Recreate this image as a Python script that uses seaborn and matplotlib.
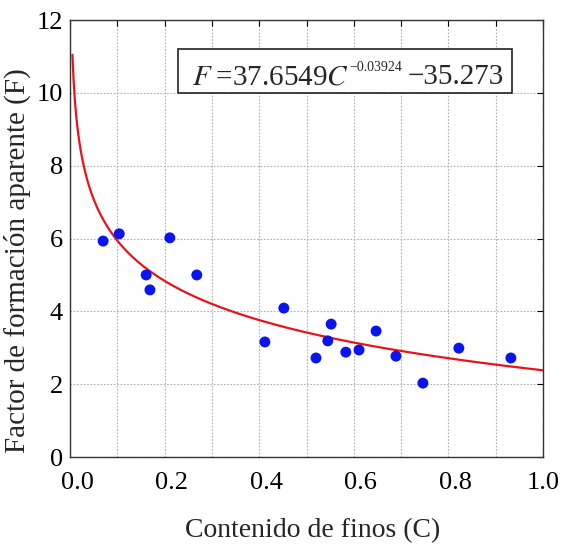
import numpy as np
import pandas as pd
import matplotlib
matplotlib.use("Agg")
import matplotlib.pyplot as plt
import matplotlib.patches as mpatches
import matplotlib.transforms as mtransforms
import seaborn as sns

# Data
finos = [0.070, 0.104, 0.161, 0.169, 0.211, 0.268, 0.412, 0.452, 0.520, 0.545,
         0.552, 0.583, 0.611, 0.647, 0.689, 0.746, 0.822, 0.932]
factor = [5.93, 6.13, 5.00, 4.59, 6.02, 5.00, 3.16, 4.09, 2.72, 3.19,
          3.65, 2.88, 2.94, 3.46, 2.77, 2.03, 2.99, 2.72]
coef_a = 37.6549
coef_b = -0.03924
coef_c = -35.273
x_ticks = [0.0, 0.1, 0.2, 0.3, 0.4, 0.5, 0.6, 0.7, 0.8, 0.9, 1.0]
x_ticklabels = ["0.0", "", "0.2", "", "0.4", "", "0.6", "", "0.8", "", "1.0"]
y_ticks = [0, 2, 4, 6, 8, 10, 12]

sns.set_style("white")
plt.rcParams['font.family'] = ['Liberation Serif', 'DejaVu Serif']
plt.rcParams['mathtext.fontset'] = 'stix'

fig = plt.figure(figsize=(5.61, 5.5), dpi=100)
ax = fig.add_axes([0.1248, 0.169, 0.8432, 0.7946])

df = pd.DataFrame({"C": finos, "F": factor})
curve_x = np.linspace(0.0051, 1.0, 400)
curve = pd.DataFrame({"C": curve_x, "F": coef_a * curve_x ** coef_b + coef_c})

sns.lineplot(data=curve, x="C", y="F", ax=ax, color="#e8141b", linewidth=1.6, zorder=3)
sns.scatterplot(data=df, x="C", y="F", ax=ax, color="#0a14f0", s=62,
                edgecolor="none", zorder=4)

ax.set_xlim(0, 1.0)
ax.set_ylim(0, 12)
ax.set_xticks(x_ticks)
ax.set_xticklabels(x_ticklabels)
ax.set_yticks(y_ticks)
ax.grid(True, color="#b0b0b0", linestyle=(0, (1.5, 1.5)), linewidth=0.8)
ax.tick_params(direction="in", top=True, right=True, length=4, width=0.8,
               labelsize=19, colors="black")
ax.tick_params(axis="x", pad=11)
ax.tick_params(axis="y", pad=5)
for s in ax.spines.values():
    s.set_color("#333333")
    s.set_linewidth(1.0)
    s.set_visible(True)

# shift x tick labels slightly right (except last), as in the reference
shift = mtransforms.ScaledTranslation(5 / 72, 0, fig.dpi_scale_trans)
for lbl in ax.get_xticklabels()[:-1]:
    lbl.set_transform(lbl.get_transform() + shift)

ax.set_xlabel("Contenido de finos (C)", fontsize=20)
ax.set_ylabel("Factor de formación aparente (F)", fontsize=21)
ax.xaxis.set_label_coords(0.512, -0.1396)
ax.yaxis.set_label_coords(-0.083, 0.449)

# equation box
box = mpatches.Rectangle((0.2283, 0.833), 0.7062, 0.1006, transform=ax.transAxes,
                         facecolor="white", edgecolor="#222222", linewidth=1.2, zorder=5)
ax.add_patch(box)
t1 = ax.text(0.258, 0.853, "$F$\u2009=37.6549$C$", transform=ax.transAxes,
             fontsize=21, va="baseline", ha="left", zorder=6)
t2 = ax.annotate("\u22120.03924", xy=(1, 0.906), xycoords=(t1, "axes fraction"),
                 xytext=(0.5, 0), textcoords="offset points",
                 fontsize=10, va="top", ha="left", zorder=6)
t3 = ax.annotate("\u221235.273", xy=(1, 0.853), xycoords=(t2, "axes fraction"),
                 xytext=(3.5, 0), textcoords="offset points",
                 fontsize=21, va="baseline", ha="left", zorder=6)

fig.savefig("out.png", dpi=100)
